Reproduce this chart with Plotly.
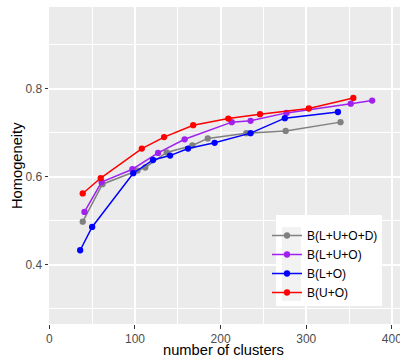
import plotly.graph_objects as go

# ---- data ----
series_names = ["B(L+U+O+D)", "B(L+U+O)", "B(L+O)", "B(U+O)"]
series_colors = ["#808080", "#A020F0", "#0000FF", "#FF0000"]

x_luod = [39, 62, 103, 112, 137, 167, 185, 230, 276, 340]
y_luod = [0.498, 0.583, 0.614, 0.621, 0.655, 0.671, 0.687, 0.699, 0.704, 0.724]

x_luo = [41, 61, 97, 127, 158, 213, 235, 277, 352, 377]
y_luo = [0.520, 0.588, 0.617, 0.654, 0.685, 0.724, 0.727, 0.745, 0.766, 0.773]

x_lo = [36, 50, 98, 121, 141, 162, 193, 235, 275, 337]
y_lo = [0.433, 0.486, 0.608, 0.638, 0.648, 0.664, 0.677, 0.699, 0.733, 0.747]

x_uo = [39, 60, 108, 134, 168, 209, 246, 303, 355]
y_uo = [0.562, 0.597, 0.664, 0.690, 0.717, 0.732, 0.742, 0.755, 0.779]

x_ticks = [0, 100, 200, 300, 400]
y_ticks = [0.4, 0.6, 0.8]
y_tick_labels = ["0.4", "0.6", "0.8"]

xs = [x_luod, x_luo, x_lo, x_uo]
ys = [y_luod, y_luo, y_lo, y_uo]

FONT = "Liberation Sans, Arial, sans-serif"

fig = go.Figure()
for name, color, x, y in zip(series_names, series_colors, xs, ys):
    fig.add_trace(go.Scatter(
        x=x, y=y, name=name, mode="lines+markers",
        line=dict(color=color, width=1.5),
        marker=dict(color=color, size=6.3),
    ))

# geometry of panel (px)
L, R, T, B = 49, 0, 7, 36
W, H = 400 - L - R, 360 - T - B

def px_x(p):
    return (p - L) / W

def px_y(p):
    return (360 - B - p) / H

fig.update_layout(
    width=400, height=360,
    margin=dict(l=L, r=R, t=T, b=B, pad=0, autoexpand=False),
    paper_bgcolor="white",
    plot_bgcolor="#EBEBEB",
    font=dict(family=FONT, size=12, color="#4D4D4D"),
    showlegend=True,
    legend=dict(
        x=px_x(267), y=px_y(221), xanchor="left", yanchor="top",
        bgcolor="rgba(0,0,0,0)", borderwidth=0,
        font=dict(family=FONT, size=12, color="black"),
        itemwidth=30, tracegroupgap=0,
    ),
    xaxis=dict(
        range=[-0.4, 409.5], tickvals=x_ticks, ticktext=[str(v) for v in x_ticks],
        automargin=False, ticklabeloverflow="allow",
        showgrid=True, gridcolor="white", gridwidth=1.5,
        minor=dict(tickvals=[50, 150, 250, 350], showgrid=True, gridcolor="white", gridwidth=0.8, ticks=""),
        ticks="outside", ticklen=3.5, tickcolor="#333333", tickwidth=1,
        zeroline=False, showline=False,
        tickfont=dict(family=FONT, size=12, color="#4D4D4D"),
    ),
    yaxis=dict(
        range=[0.2655, 0.9855], tickvals=y_ticks, ticktext=y_tick_labels,
        automargin=False,
        showgrid=True, gridcolor="white", gridwidth=1.5,
        minor=dict(tickvals=[0.3, 0.5, 0.7, 0.9], showgrid=True, gridcolor="white", gridwidth=0.8, ticks=""),
        ticks="outside", ticklen=3.5, tickcolor="#333333", tickwidth=1,
        zeroline=False, showline=False,
        tickfont=dict(family=FONT, size=12, color="#4D4D4D"),
    ),
    shapes=[
        dict(type="rect", xref="paper", yref="paper",
             x0=px_x(276), x1=px_x(382), y0=px_y(306), y1=px_y(215),
             fillcolor="white", line=dict(width=0), layer="above"),
        dict(type="rect", xref="paper", yref="paper",
             x0=px_x(282), x1=px_x(301), y0=px_y(301), y1=px_y(227),
             fillcolor="#F2F2F2", line=dict(width=0), layer="above"),
    ],
    annotations=[
        dict(text="Homogeneity", xref="paper", yref="paper",
             x=px_x(17), y=px_y(166), textangle=-90, showarrow=False,
             xanchor="center", yanchor="middle",
             font=dict(family=FONT, size=14.7, color="black")),
        dict(text="number of clusters", xref="paper", yref="paper",
             x=px_x(223.5), y=px_y(350), showarrow=False,
             xanchor="center", yanchor="middle",
             font=dict(family=FONT, size=14.7, color="black")),
    ],
)

fig.write_html("out.html", config={"displayModeBar": False},
               post_script="document.body.style.margin='0';document.body.style.overflow='hidden';")
